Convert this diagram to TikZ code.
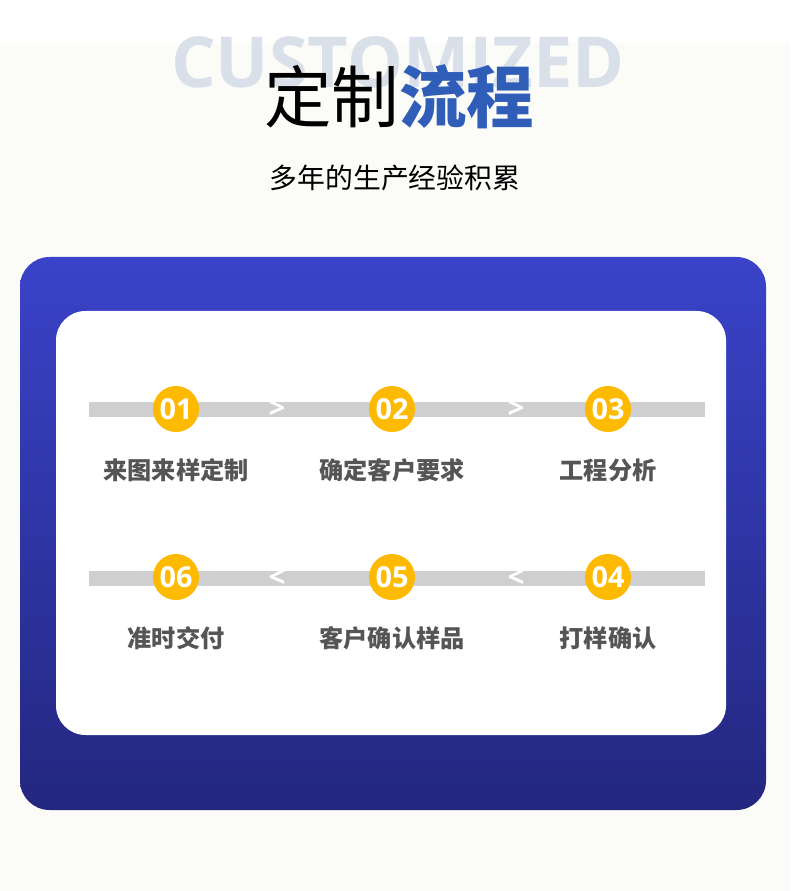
\documentclass[tikz,border=0pt]{standalone}
\usepackage{fontspec}
\setmainfont{Open Sans}
\newfontfamily\cjk{Noto Sans CJK SC}
\usetikzlibrary{positioning}
\definecolor{pageback}{HTML}{FBFCF8}
\definecolor{ghostgrey}{HTML}{D9E0EA}
\definecolor{titleblue}{HTML}{2F5DB8}
\definecolor{paneltop}{HTML}{3A43C9}
\definecolor{panelbot}{HTML}{23277F}
\definecolor{bargrey}{HTML}{CFCFCF}
\definecolor{stepgold}{HTML}{FDBA00}
\definecolor{labelgrey}{HTML}{555555}

\begin{document}
\begin{tikzpicture}[x=0.025cm, y=-0.025cm,
  BAR/.style ={bargrey, line width=10.7pt},
  NUM/.style ={circle, fill=stepgold, minimum size=1.15cm, inner sep=0pt,
               text=white, font=\fontsize{20.5}{22}\selectfont\bfseries},
  LBL/.style ={text=labelgrey, font=\cjk\fontsize{17.2}{19}\selectfont\bfseries},
  ARR/.style ={text=white, inner sep=0pt, font=\fontsize{21}{22}\selectfont\bfseries}
]
  \useasboundingbox (0,0) rectangle (790,891);
  \fill[pageback] (0,0) rectangle (790,891);
  \fill[white] (0,0) rectangle (790,43);

  % heading
  \node[text=ghostgrey, font=\fontsize{50}{52}\selectfont\bfseries] (ghost) at (398,62) {CUSTOMIZED};
  \node[font=\cjk\fontsize{48}{52}\selectfont] (title) at (399,97)
    {定制\textcolor{titleblue}{\bfseries 流程}};
  \node[font=\cjk\fontsize{19.8}{22}\selectfont] (subtitle) at (395,178) {多年的生产经验积累};

  % panels
  \shade[top color=paneltop, bottom color=panelbot, rounded corners=21pt] (20,257) rectangle (766,810);
  \fill[white, rounded corners=21pt] (56,311) rectangle (726,735);

  % bars
  \coordinate (r1w) at (89,409.5);  \coordinate (r1e) at (705,409.5);
  \coordinate (r2w) at (89,578.5);  \coordinate (r2e) at (705,578.5);
  \draw[BAR] (r1w) -- (r1e);
  \draw[BAR] (r2w) -- (r2e);

  % steps
  \foreach \n/\x/\y/\t in {1/176/409/来图来样定制, 2/392/409/确定客户要求, 3/608/409/工程分析,
                           4/608/577/打样确认, 5/392/577/客户确认样品, 6/176/577/准时交付}{
    \node[NUM] (c\n) at (\x,\y) {0\n};
    \node[LBL] (l\n) at (\x,\y+61) {\t};
  }

  \node[ARR] (a12) at (277,409) {>};
  \node[ARR] (a23) at (516,409) {>};
  \node[ARR] (a45) at (516,578) {<};
  \node[ARR] (a56) at (277,578) {<};
\end{tikzpicture}
\end{document}
